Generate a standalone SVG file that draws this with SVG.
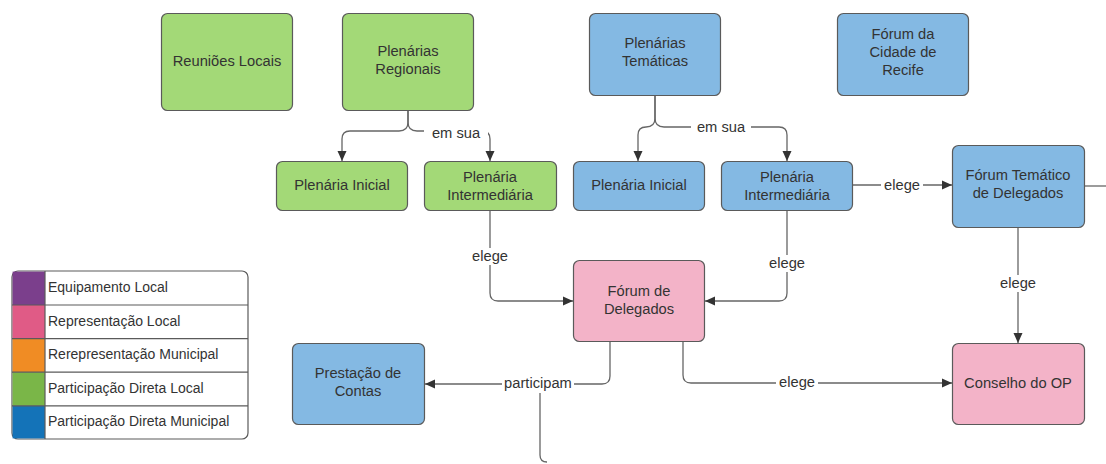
<svg xmlns="http://www.w3.org/2000/svg" width="1106" height="464" viewBox="0 0 1106 464">
  <style>
    .node rect { stroke: #5a5a5a; stroke-width: 1.2; }
    .g rect { fill: #a3d977; }
    .b rect { fill: #84b9e3; }
    .p rect { fill: #f3b3c8; }
    text { font-family: "Liberation Sans", Arial, sans-serif; font-size: 14.7px; fill: #333333; }
    #legend text { font-size: 14px; }
    .c { text-anchor: middle; }
    .wire { fill: none; stroke: #666666; stroke-width: 1.3; }
    .lbl { fill: #ffffff; }
  </style>
  <defs>
    <marker id="arrow" viewBox="0 0 10 10" refX="10" refY="5" markerWidth="10" markerHeight="10" markerUnits="userSpaceOnUse" orient="auto">
      <path d="M0,0.5 L10,5 L0,9.5 Z" fill="#333333"/>
    </marker>
  </defs>

  <rect width="1106" height="464" fill="#ffffff"/>

  <!-- connectors -->
  <g id="connectors">
    <!-- Plenárias Regionais em sua -->
    <path class="wire" d="M408,111 V122 Q408,131 399,131 H350 Q342,131 342,139 V161" marker-end="url(#arrow)"/>
    <path class="wire" d="M408,111 V122 Q408,131 417,131 H482 Q490,131 490,139 V161" marker-end="url(#arrow)"/>
    <!-- Plenárias Temáticas em sua -->
    <path class="wire" d="M655,96 V118 Q655,127 646,127 H646 Q638,127 638,135 V161" marker-end="url(#arrow)"/>
    <path class="wire" d="M655,96 V118 Q655,127 664,127 H779 Q787,127 787,135 V161" marker-end="url(#arrow)"/>
    <!-- Plenária Intermediária -> Fórum Temático -->
    <path class="wire" d="M853,185 H952" marker-end="url(#arrow)"/>
    <!-- Fórum Temático out to the right -->
    <path class="wire" d="M1085,186 H1106"/>
    <!-- green Plenária Intermediária -> Fórum de Delegados -->
    <path class="wire" d="M490,211 V293 Q490,301 498,301 H573" marker-end="url(#arrow)"/>
    <!-- blue Plenária Intermediária -> Fórum de Delegados -->
    <path class="wire" d="M787,211 V293 Q787,301 779,301 H705" marker-end="url(#arrow)"/>
    <!-- Fórum Temático -> Conselho do OP -->
    <path class="wire" d="M1018,228 V343" marker-end="url(#arrow)"/>
    <!-- Fórum de Delegados -> Conselho do OP -->
    <path class="wire" d="M683,342 V375 Q683,383 691,383 H952" marker-end="url(#arrow)"/>
    <!-- Fórum de Delegados -> Prestação de Contas -->
    <path class="wire" d="M610,342 V376 Q610,384 602,384 H425" marker-end="url(#arrow)"/>
    <!-- branch running off the bottom edge -->
    <path class="wire" d="M540,384 V455 Q540,462 547,462"/>

    <!-- labels -->
    <rect class="lbl" x="424" y="125" width="64" height="16"/>
    <text class="c" x="456" y="138">em sua</text>
    <rect class="lbl" x="691" y="120" width="60" height="15"/>
    <text class="c" x="721" y="132">em sua</text>
    <rect class="lbl" x="881" y="178" width="42" height="16"/>
    <text class="c" x="902" y="190">elege</text>
    <rect class="lbl" x="469" y="248" width="42" height="17"/>
    <text class="c" x="490" y="261">elege</text>
    <rect class="lbl" x="766" y="255" width="42" height="17"/>
    <text class="c" x="787" y="268">elege</text>
    <rect class="lbl" x="997" y="275" width="42" height="17"/>
    <text class="c" x="1018" y="288">elege</text>
    <rect class="lbl" x="776" y="375" width="42" height="16"/>
    <text class="c" x="797" y="387">elege</text>
    <rect class="lbl" x="502" y="375" width="72" height="18"/>
    <text class="c" x="538" y="388">participam</text>
  </g>

  <!-- nodes -->
  <g id="reunioes-locais" class="node g">
    <rect x="161.5" y="13.5" width="131" height="97" rx="6"/>
    <text class="c" x="227" y="66">Reuniões Locais</text>
  </g>
  <g id="plenarias-regionais" class="node g">
    <rect x="342.5" y="13.5" width="131" height="97" rx="6"/>
    <text class="c" x="408" y="56">Plenárias</text>
    <text class="c" x="408" y="74">Regionais</text>
  </g>
  <g id="plenaria-inicial-regional" class="node g">
    <rect x="276.5" y="161.5" width="131" height="49" rx="6"/>
    <text class="c" x="342" y="190">Plenária Inicial</text>
  </g>
  <g id="plenaria-intermediaria-regional" class="node g">
    <rect x="424.5" y="161.5" width="132" height="49" rx="6"/>
    <text class="c" x="490" y="182">Plenária</text>
    <text class="c" x="490" y="200">Intermediária</text>
  </g>
  <g id="plenarias-tematicas" class="node b">
    <rect x="589.5" y="13.5" width="131" height="82" rx="6"/>
    <text class="c" x="655" y="48">Plenárias</text>
    <text class="c" x="655" y="66">Temáticas</text>
  </g>
  <g id="forum-cidade" class="node b">
    <rect x="837.5" y="13.5" width="131" height="82" rx="6"/>
    <text class="c" x="903" y="39">Fórum da</text>
    <text class="c" x="903" y="57">Cidade de</text>
    <text class="c" x="903" y="75">Recife</text>
  </g>
  <g id="plenaria-inicial-tematica" class="node b">
    <rect x="573.5" y="161.5" width="131" height="49" rx="6"/>
    <text class="c" x="639" y="190">Plenária Inicial</text>
  </g>
  <g id="plenaria-intermediaria-tematica" class="node b">
    <rect x="721.5" y="161.5" width="131" height="49" rx="6"/>
    <text class="c" x="787" y="182">Plenária</text>
    <text class="c" x="787" y="200">Intermediária</text>
  </g>
  <g id="forum-tematico" class="node b">
    <rect x="952.5" y="145.5" width="132" height="82" rx="6"/>
    <text class="c" x="1018" y="180">Fórum Temático</text>
    <text class="c" x="1018" y="198">de Delegados</text>
  </g>
  <g id="forum-delegados" class="node p">
    <rect x="573.5" y="260.5" width="131" height="81" rx="6"/>
    <text class="c" x="639" y="296">Fórum de</text>
    <text class="c" x="639" y="314">Delegados</text>
  </g>
  <g id="prestacao-contas" class="node b">
    <rect x="292.5" y="343.5" width="132" height="81" rx="6"/>
    <text class="c" x="358" y="378">Prestação de</text>
    <text class="c" x="358" y="396">Contas</text>
  </g>
  <g id="conselho-op" class="node p">
    <rect x="952.5" y="343.5" width="132" height="81" rx="6"/>
    <text class="c" x="1018" y="388">Conselho do OP</text>
  </g>

  <!-- legend -->
  <g id="legend">
    <rect x="12" y="271" width="236" height="168" rx="6" fill="#ffffff" stroke="#5a5a5a" stroke-width="1.2"/>
    <rect x="12.6" y="271.6" width="32.4" height="33.4" fill="#7b3f8c"/>
    <rect x="12.6" y="305" width="32.4" height="33.6" fill="#e05b86"/>
    <rect x="12.6" y="338.6" width="32.4" height="33.6" fill="#f08c24"/>
    <rect x="12.6" y="372.2" width="32.4" height="33.6" fill="#7ab648"/>
    <rect x="12.6" y="405.8" width="32.4" height="32.6" fill="#1473b8"/>
    <g stroke="#5a5a5a" stroke-width="1.2">
      <line x1="45" y1="271" x2="45" y2="439"/>
      <line x1="12" y1="305" x2="248" y2="305"/>
      <line x1="12" y1="338.6" x2="248" y2="338.6"/>
      <line x1="12" y1="372.2" x2="248" y2="372.2"/>
      <line x1="12" y1="405.8" x2="248" y2="405.8"/>
    </g>
    <text x="48" y="292">Equipamento Local</text>
    <text x="48" y="326">Representação Local</text>
    <text x="48" y="359">Rerepresentação Municipal</text>
    <text x="48" y="393">Participação Direta Local</text>
    <text x="48" y="426">Participação Direta Municipal</text>
  </g>
</svg>
